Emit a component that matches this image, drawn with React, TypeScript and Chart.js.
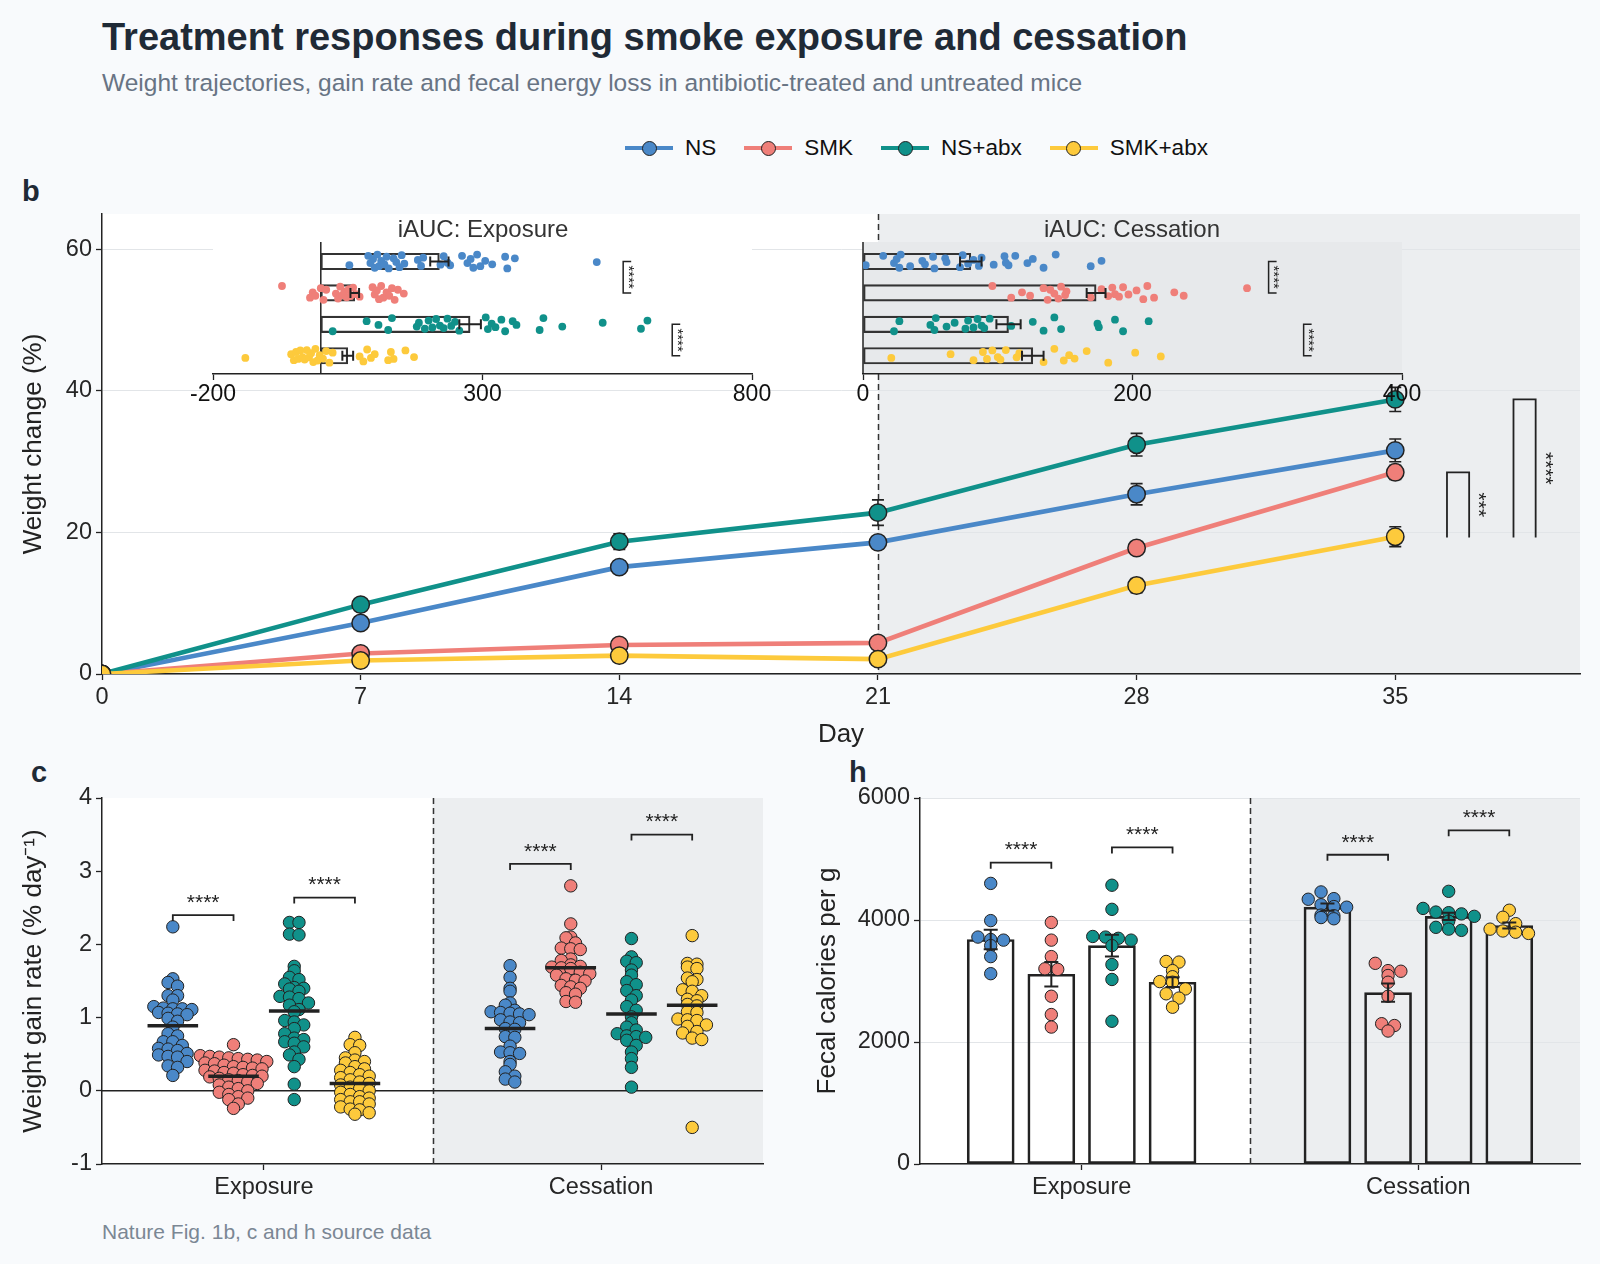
import React, { useEffect, useRef } from "react";
import { Chart, registerables } from "chart.js";

Chart.register(...registerables);

// ---------------- data ----------------
const GROUPS = ["NS", "SMK", "NS+abx", "SMK+abx"];
const COLORS = ["#4a88c8", "#ef7f79", "#10918a", "#fdca3c"];

// panel b: weight change (%) by day
const DAYS = [0, 7, 14, 21, 28, 35];
const DAY_TICKS = [0, 7, 14, 21, 28, 35];
const WEIGHT_TICKS = [0, 20, 40, 60];
const WEIGHT_NS = [0, 7.2, 15.1, 18.6, 25.4, 31.6];
const WEIGHT_SMK = [0, 2.9, 4.1, 4.4, 17.8, 28.5];
const WEIGHT_NSABX = [0, 9.8, 18.7, 22.8, 32.4, 38.8];
const WEIGHT_SMKABX = [0, 1.9, 2.6, 2.1, 12.5, 19.4];
const SEM_NS = [0, 0.6, 0.9, 0.9, 1.5, 1.6];
const SEM_SMK = [0, 0.4, 0.4, 0.4, 0.9, 1.0];
const SEM_NSABX = [0, 0.6, 1.1, 1.8, 1.6, 1.7];
const SEM_SMKABX = [0, 0.4, 0.4, 0.4, 1.0, 1.4];
const WEIGHT = [WEIGHT_NS, WEIGHT_SMK, WEIGHT_NSABX, WEIGHT_SMKABX];
const WEIGHT_SEM = [SEM_NS, SEM_SMK, SEM_NSABX, SEM_SMKABX];
const CESSATION_DAY = 21;

// inset: iAUC exposure
const IAUC_EXP_TICKS = [-200, 300, 800];
const IAUC_EXP_NS = [53, 88, 92, 97, 100, 105, 108, 112, 118, 122, 126, 135, 140, 146, 150, 155, 180, 186, 190, 222, 228, 235, 240, 262, 272, 278, 283, 290, 296, 305, 318, 342, 346, 360, 512];
const IAUC_EXP_SMK = [-72, -20, -15, -10, 0, 5, 10, 28, 32, 36, 40, 44, 48, 52, 55, 60, 66, 72, 96, 100, 104, 108, 112, 116, 122, 127, 132, 137, 143, 154];
const IAUC_EXP_NSABX = [22, 85, 107, 125, 132, 178, 182, 193, 200, 207, 214, 221, 228, 235, 242, 249, 257, 306, 310, 317, 324, 335, 342, 356, 363, 406, 413, 448, 523, 594, 606];
const IAUC_EXP_SMKABX = [-140, -55, -50, -46, -42, -38, -34, -30, -26, -22, -18, -14, -10, -6, -2, 4, 10, 16, 22, 72, 79, 86, 93, 100, 125, 130, 135, 157, 173];
const IAUC_EXP_MEAN = [220, 63, 277, 50];
const IAUC_EXP_SEM = [17, 8, 20, 10];

// inset: iAUC cessation
const IAUC_CES_TICKS = [0, 200, 400];
const IAUC_CES_NS = [2, 15, 23, 25, 27, 28, 35, 44, 46, 52, 53, 61, 62, 72, 74, 78, 82, 86, 88, 97, 105, 106, 108, 113, 122, 126, 134, 143, 169, 177];
const IAUC_CES_SMK = [96, 110, 118, 124, 134, 137, 139, 142, 145, 147, 150, 151, 169, 177, 182, 185, 187, 190, 193, 197, 203, 208, 211, 216, 231, 238, 285];
const IAUC_CES_NSABX = [23, 27, 50, 53, 54, 62, 68, 76, 78, 82, 85, 88, 90, 94, 110, 126, 134, 142, 147, 174, 175, 187, 193, 212];
const IAUC_CES_SMKABX = [21, 65, 82, 89, 92, 96, 100, 102, 106, 114, 116, 134, 142, 149, 153, 157, 166, 182, 202, 221];
const IAUC_CES_MEAN = [80, 173, 108, 126];
const IAUC_CES_SEM = [8, 7, 9, 8];

// panel c: weight gain rate (% per day)
const PERIODS = ["Exposure", "Cessation"];
const RATE_TICKS = [-1, 0, 1, 2, 3, 4];
const RATE_EXP_NS = [2.24, 1.53, 1.48, 1.43, 1.3, 1.3, 1.24, 1.15, 1.13, 1.12, 1.12, 1.11, 1.07, 1.06, 1.05, 1.04, 0.99, 0.95, 0.87, 0.78, 0.75, 0.67, 0.67, 0.62, 0.58, 0.57, 0.55, 0.51, 0.49, 0.47, 0.46, 0.4, 0.34, 0.32, 0.21];
const RATE_EXP_SMK = [0.63, 0.48, 0.47, 0.46, 0.45, 0.44, 0.43, 0.42, 0.4, 0.38, 0.37, 0.35, 0.33, 0.32, 0.31, 0.3, 0.28, 0.27, 0.25, 0.24, 0.22, 0.21, 0.2, 0.19, 0.17, 0.15, 0.14, 0.12, 0.1, 0.08, 0.05, 0.03, 0.0, -0.02, -0.05, -0.08, -0.1, -0.12, -0.18, -0.24];
const RATE_EXP_NSABX = [2.3, 2.3, 2.14, 2.13, 1.7, 1.64, 1.55, 1.52, 1.46, 1.41, 1.4, 1.39, 1.36, 1.29, 1.28, 1.26, 1.2, 1.17, 1.11, 1.08, 0.96, 0.94, 0.9, 0.85, 0.78, 0.72, 0.7, 0.67, 0.65, 0.6, 0.53, 0.49, 0.43, 0.33, 0.09, -0.12];
const RATE_EXP_SMKABX = [0.73, 0.63, 0.62, 0.52, 0.45, 0.42, 0.4, 0.38, 0.33, 0.3, 0.28, 0.25, 0.22, 0.2, 0.18, 0.15, 0.12, 0.1, 0.08, 0.05, 0.03, 0.0, -0.02, -0.05, -0.08, -0.1, -0.12, -0.15, -0.15, -0.18, -0.22, -0.25, -0.26, -0.3, -0.32];
const RATE_CES_NS = [1.71, 1.55, 1.4, 1.36, 1.2, 1.17, 1.1, 1.08, 1.07, 1.06, 1.05, 1.04, 0.97, 0.94, 0.93, 0.85, 0.84, 0.74, 0.73, 0.61, 0.53, 0.52, 0.51, 0.4, 0.36, 0.26, 0.2, 0.16, 0.12];
const RATE_CES_SMK = [2.8, 2.28, 2.1, 2.09, 2.02, 1.95, 1.94, 1.93, 1.8, 1.78, 1.72, 1.7, 1.69, 1.68, 1.67, 1.62, 1.6, 1.58, 1.53, 1.51, 1.5, 1.44, 1.42, 1.4, 1.34, 1.32, 1.22, 1.21];
const RATE_CES_NSABX = [2.08, 1.83, 1.77, 1.75, 1.65, 1.58, 1.49, 1.45, 1.37, 1.3, 1.24, 1.15, 1.1, 1.01, 0.93, 0.87, 0.83, 0.78, 0.75, 0.74, 0.73, 0.69, 0.62, 0.53, 0.44, 0.32, 0.05];
const RATE_CES_SMKABX = [2.12, 1.74, 1.73, 1.69, 1.67, 1.54, 1.52, 1.49, 1.38, 1.36, 1.3, 1.25, 1.23, 1.18, 1.16, 1.08, 1.07, 0.98, 0.97, 0.96, 0.9, 0.88, 0.81, 0.79, 0.72, 0.7, -0.5];
const RATE_EXP_MEAN = [0.89, 0.2, 1.09, 0.1];
const RATE_CES_MEAN = [0.85, 1.68, 1.05, 1.17];

// panel h: fecal calories per g
const FECAL_TICKS = [0, 2000, 4000, 6000];
const FECAL_EXP_NS = [4600, 3990, 3720, 3680, 3670, 3580, 3400, 3120];
const FECAL_EXP_SMK = [3960, 3670, 3400, 3200, 3190, 2750, 2450, 2245];
const FECAL_EXP_NSABX = [4570, 4175, 3730, 3720, 3700, 3670, 3580, 3270, 3025, 2340];
const FECAL_EXP_SMKABX = [3320, 3310, 3170, 3070, 2990, 2980, 2870, 2790, 2720, 2570];
const FECAL_CES_NS = [4460, 4350, 4340, 4250, 4220, 4210, 4080, 4070, 4040, 4020];
const FECAL_CES_SMK = [3290, 3170, 3160, 3090, 2980, 2750, 2300, 2270, 2180];
const FECAL_CES_NSABX = [4470, 4190, 4130, 4120, 4100, 4060, 3980, 3880, 3850, 3830];
const FECAL_CES_SMKABX = [4160, 4045, 3940, 3850, 3820, 3800, 3780];
const FECAL_EXP_MEAN = [3680, 3110, 3580, 2980];
const FECAL_CES_MEAN = [4210, 2810, 4060, 3910];
const FECAL_EXP_SEM = [160, 200, 180, 80];
const FECAL_CES_SEM = [60, 150, 60, 50];

// ---------------- style ----------------
const FONT = '"Liberation Sans", Arial, Helvetica, sans-serif';
const INK = "#222222";
const TEXT = "#262626";
const SHADE = "#eceef0";
const PAGE_BG = "#f8fafc";
const GRID = "#e2e5e8";
const TICK_PX = 23.5;
const TITLE_PX = 26;
const GROUP_OFFSETS = [-0.27, -0.09, 0.09, 0.27];
const JITTER = [0.12, -0.18, 0.05, -0.08, 0.2, -0.22, 0.15, -0.02, 0.09, -0.15, 0.22, -0.1, 0.02, 0.18, -0.2, 0.07, -0.05, 0.14, -0.12, 0.1, -0.17, 0.04];
const XMIN2 = -0.48;
const XMAX2 = 1.48;

// binned swarm layout: points in the same value bin are spread side by side
function binSwarm(values: number[], center: number, pxX: number, binSize: number, stepPx: number) {
  const bins = new Map<number, number[]>();
  values.forEach((v) => {
    const k = Math.floor(v / binSize + 1e-9);
    if (!bins.has(k)) bins.set(k, []);
    (bins.get(k) as number[]).push(v);
  });
  const out: { x: number; y: number }[] = [];
  bins.forEach((list) => {
    list.forEach((v, i) => {
      out.push({ x: center + ((i - (list.length - 1) / 2) * stepPx) / pxX, y: v });
    });
  });
  return out;
}

const fixW = (w: number) => (s: any) => {
  s.width = w;
};
const fixH = (h: number) => (s: any) => {
  s.height = h;
};

function tickFont(size: number) {
  return { family: FONT, size };
}

function bgPlugin(color: string) {
  return {
    id: "areaBg",
    beforeDraw(chart: any) {
      const { ctx, chartArea: a } = chart;
      ctx.save();
      ctx.fillStyle = color;
      ctx.fillRect(a.left, a.top, a.right - a.left, a.bottom - a.top);
      ctx.restore();
    },
  };
}

function shadeFrom(xv: number) {
  return {
    id: "shade",
    beforeDraw(chart: any) {
      const { ctx, chartArea: a, scales } = chart;
      const x0 = scales.x.getPixelForValue(xv);
      ctx.save();
      ctx.fillStyle = SHADE;
      ctx.fillRect(x0, a.top, a.right - x0, a.bottom - a.top);
      ctx.restore();
    },
    beforeDatasetsDraw(chart: any) {
      const { ctx, chartArea: a, scales } = chart;
      const x0 = Math.round(scales.x.getPixelForValue(xv)) + 0.5;
      ctx.save();
      ctx.strokeStyle = "#333";
      ctx.lineWidth = 1.5;
      ctx.setLineDash([6, 4]);
      ctx.beginPath();
      ctx.moveTo(x0, a.top);
      ctx.lineTo(x0, a.bottom);
      ctx.stroke();
      ctx.restore();
    },
  };
}

function hBracket(chart: any, x0: number, x1: number, yv: number, label: string) {
  const { ctx, scales } = chart;
  const X0 = scales.x.getPixelForValue(x0);
  const X1 = scales.x.getPixelForValue(x1);
  const Y = scales.y.getPixelForValue(yv);
  ctx.save();
  ctx.strokeStyle = INK;
  ctx.lineWidth = 1.8;
  ctx.beginPath();
  ctx.moveTo(X0, Y + 6);
  ctx.lineTo(X0, Y);
  ctx.lineTo(X1, Y);
  ctx.lineTo(X1, Y + 6);
  ctx.stroke();
  ctx.fillStyle = INK;
  ctx.font = `21px ${FONT}`;
  ctx.textAlign = "center";
  ctx.textBaseline = "middle";
  ctx.fillText(label, (X0 + X1) / 2, Y - 12);
  ctx.restore();
}

// ---------------- chart configs ----------------
function makeB() {
  const datasets = GROUPS.map((g, i) => ({
    label: g,
    data: DAYS.map((d, k) => ({ x: d, y: WEIGHT[i][k] })),
    borderColor: COLORS[i],
    backgroundColor: COLORS[i],
    borderWidth: 4.6,
    pointRadius: 8.7,
    pointBorderWidth: 1.5,
    pointBorderColor: INK,
    pointBackgroundColor: COLORS[i],
    order: 4 - i,
    tension: 0,
  }));
  const deco = {
    id: "bDeco",
    beforeDatasetsDraw(chart: any) {
      const { ctx, scales } = chart;
      const { x, y } = scales;
      ctx.save();
      ctx.strokeStyle = INK;
      ctx.lineWidth = 1.6;
      WEIGHT.forEach((ser, g) =>
        ser.forEach((v, k) => {
          const s = WEIGHT_SEM[g][k];
          if (!s) return;
          const px = x.getPixelForValue(DAYS[k]);
          const y0 = y.getPixelForValue(v - s);
          const y1 = y.getPixelForValue(v + s);
          ctx.beginPath();
          ctx.moveTo(px, y0);
          ctx.lineTo(px, y1);
          ctx.moveTo(px - 6, y0);
          ctx.lineTo(px + 6, y0);
          ctx.moveTo(px - 6, y1);
          ctx.lineTo(px + 6, y1);
          ctx.stroke();
        })
      );
      ctx.restore();
    },
    afterDatasetsDraw(chart: any) {
      const { ctx, scales } = chart;
      const { x, y } = scales;
      const br = (x0: number, x1: number, yt: number, yb: number, label: string) => {
        const X0 = x.getPixelForValue(x0);
        const X1 = x.getPixelForValue(x1);
        const YT = y.getPixelForValue(yt);
        const YB = y.getPixelForValue(yb);
        ctx.save();
        ctx.strokeStyle = INK;
        ctx.lineWidth = 1.8;
        ctx.beginPath();
        ctx.moveTo(X0, YB);
        ctx.lineTo(X0, YT);
        ctx.lineTo(X1, YT);
        ctx.lineTo(X1, YB);
        ctx.stroke();
        ctx.translate(X1 + 9, (YT + YB) / 2);
        ctx.rotate(Math.PI / 2);
        ctx.fillStyle = INK;
        ctx.font = `21px ${FONT}`;
        ctx.textAlign = "center";
        ctx.textBaseline = "middle";
        ctx.fillText(label, 0, 0);
        ctx.restore();
      };
      br(36.4, 37.0, WEIGHT_SMK[5], WEIGHT_SMKABX[5] - 0.1, "***");
      br(38.2, 38.8, WEIGHT_NSABX[5], WEIGHT_SMKABX[5] - 0.1, "****");
    },
  };
  return {
    type: "line",
    data: { datasets },
    options: {
      responsive: false,
      animation: false,
      events: [],
      layout: { padding: { left: 14, top: 24, right: 20, bottom: 0 } },
      plugins: { legend: { display: false }, tooltip: { enabled: false } },
      scales: {
        x: {
          type: "linear",
          min: 0,
          max: 40,
          afterFit: fixH(76),
          afterBuildTicks: (s: any) => {
            s.ticks = DAY_TICKS.map((v) => ({ value: v }));
          },
          ticks: { font: tickFont(TICK_PX), color: TEXT, padding: 3 },
          grid: { color: "rgba(0,0,0,0)", tickColor: INK, tickLength: 6, tickWidth: 1.3 },
          border: { color: INK, width: 1.5 },
          title: { display: true, text: "Day", font: { family: FONT, size: TITLE_PX }, color: INK, padding: { top: 0, bottom: 0 } },
        },
        y: {
          type: "linear",
          min: 0,
          max: 65,
          afterFit: fixW(88),
          afterBuildTicks: (s: any) => {
            s.ticks = WEIGHT_TICKS.map((v) => ({ value: v }));
          },
          ticks: { font: tickFont(TICK_PX), color: TEXT, padding: 4 },
          grid: { color: GRID, tickColor: INK, tickLength: 6, tickWidth: 1.3 },
          border: { color: INK, width: 1.5 },
          title: { display: true, text: "Weight change (%)", font: { family: FONT, size: TITLE_PX }, color: INK, padding: { top: 4, bottom: 0 } },
        },
      },
    },
    plugins: [bgPlugin("#ffffff"), shadeFrom(CESSATION_DAY), deco],
  };
}

function makeInset(series: number[][], means: number[], sems: number[], min: number, max: number, ticks: number[], bg: string, brackets: { x: number; r0: number; r1: number }[]) {
  const bars = {
    type: "bar",
    indexAxis: "y",
    data: means.map((m, i) => ({ x: m, y: i })),
    backgroundColor: "rgba(255,255,255,0)",
    borderColor: "#333",
    borderWidth: 1.5,
    borderSkipped: false,
    barThickness: 16.5,
    order: 3,
  };
  const pts = series.map((vals, g) => ({
    type: "scatter",
    data: vals.map((v, k) => ({ x: v, y: g + JITTER[(k + g * 5) % JITTER.length] })),
    backgroundColor: COLORS[g],
    borderWidth: 0,
    pointRadius: 3.9,
    order: 2,
  }));
  const deco = {
    id: "insetDeco",
    beforeDraw(chart: any) {
      const { ctx, chartArea: a } = chart;
      ctx.save();
      ctx.fillStyle = bg;
      ctx.fillRect(a.left, a.top, a.right - a.left, a.bottom - a.top);
      ctx.restore();
    },
    beforeDatasetsDraw(chart: any) {
      const { ctx, chartArea: a, scales } = chart;
      const x0 = scales.x.getPixelForValue(0);
      ctx.save();
      ctx.strokeStyle = INK;
      ctx.lineWidth = 1.5;
      ctx.beginPath();
      ctx.moveTo(x0, a.top);
      ctx.lineTo(x0, a.bottom);
      ctx.stroke();
      ctx.restore();
    },
    afterDatasetsDraw(chart: any) {
      const { ctx, scales } = chart;
      const { x, y } = scales;
      ctx.save();
      ctx.strokeStyle = INK;
      ctx.lineWidth = 2;
      means.forEach((m, i) => {
        const X0 = x.getPixelForValue(m - sems[i]);
        const X1 = x.getPixelForValue(m + sems[i]);
        const Y = y.getPixelForValue(i);
        ctx.beginPath();
        ctx.moveTo(X0, Y);
        ctx.lineTo(X1, Y);
        ctx.moveTo(X0, Y - 5);
        ctx.lineTo(X0, Y + 5);
        ctx.moveTo(X1, Y - 5);
        ctx.lineTo(X1, Y + 5);
        ctx.stroke();
      });
      ctx.lineWidth = 1.5;
      brackets.forEach((b) => {
        const X = x.getPixelForValue(b.x);
        const Y0 = y.getPixelForValue(b.r0);
        const Y1 = y.getPixelForValue(b.r1);
        ctx.beginPath();
        ctx.moveTo(X + 8, Y0);
        ctx.lineTo(X, Y0);
        ctx.lineTo(X, Y1);
        ctx.lineTo(X + 8, Y1);
        ctx.stroke();
        ctx.save();
        ctx.translate(X + 5, (Y0 + Y1) / 2);
        ctx.rotate(Math.PI / 2);
        ctx.fillStyle = INK;
        ctx.font = `15px ${FONT}`;
        ctx.textAlign = "center";
        ctx.textBaseline = "middle";
        ctx.fillText("****", 0, 0);
        ctx.restore();
      });
      ctx.restore();
    },
  };
  return {
    type: "bar",
    data: { datasets: [bars, ...pts] },
    options: {
      responsive: false,
      animation: false,
      events: [],
      layout: { padding: { left: 33, top: 10, right: 38, bottom: 0 } },
      plugins: { legend: { display: false }, tooltip: { enabled: false } },
      scales: {
        x: {
          type: "linear",
          min,
          max,
          offset: false,
          afterFit: fixH(42),
          afterBuildTicks: (s: any) => {
            s.ticks = ticks.map((v) => ({ value: v }));
          },
          ticks: { font: tickFont(23), color: "#111", padding: 1, autoSkip: false, maxRotation: 0 },
          grid: { color: "rgba(0,0,0,0)", tickColor: INK, tickLength: 6, tickWidth: 1.3, offset: false },
          border: { color: INK, width: 1.5 },
        },
        y: {
          type: "linear",
          min: -0.62,
          max: 3.58,
          reverse: true,
          display: false,
          offset: false,
          grid: { offset: false },
        },
      },
    },
    plugins: [deco],
  };
}

function makeC() {
  const rates = [
    [RATE_EXP_NS, RATE_EXP_SMK, RATE_EXP_NSABX, RATE_EXP_SMKABX],
    [RATE_CES_NS, RATE_CES_SMK, RATE_CES_NSABX, RATE_CES_SMKABX],
  ];
  const means = [RATE_EXP_MEAN, RATE_CES_MEAN];
  const pxX = 661 / (XMAX2 - XMIN2);
  const datasets: any[] = [
    {
      type: "line",
      data: [
        { x: XMIN2, y: 0 },
        { x: XMAX2, y: 0 },
      ],
      borderColor: INK,
      borderWidth: 1.4,
      pointRadius: 0,
      order: 5,
    },
  ];
  rates.forEach((per, p) =>
    per.forEach((vals, g) => {
      const c = p + GROUP_OFFSETS[g];
      datasets.push({
        type: "scatter",
        data: binSwarm(vals, c, pxX, 0.1, 9.5),
        backgroundColor: COLORS[g],
        borderColor: INK,
        borderWidth: 1,
        pointRadius: 6.2,
        order: 2,
      });
      datasets.push({
        type: "line",
        data: [
          { x: c - 0.075, y: means[p][g] },
          { x: c + 0.075, y: means[p][g] },
        ],
        borderColor: INK,
        borderWidth: 3.5,
        pointRadius: 0,
        order: 1,
      });
    })
  );
  const deco = {
    id: "cDeco",
    afterDatasetsDraw(chart: any) {
      hBracket(chart, GROUP_OFFSETS[0], GROUP_OFFSETS[1], 2.4, "****");
      hBracket(chart, GROUP_OFFSETS[2], GROUP_OFFSETS[3], 2.64, "****");
      hBracket(chart, 1 + GROUP_OFFSETS[0], 1 + GROUP_OFFSETS[1], 3.1, "****");
      hBracket(chart, 1 + GROUP_OFFSETS[2], 1 + GROUP_OFFSETS[3], 3.5, "****");
    },
  };
  return {
    type: "scatter",
    data: { datasets },
    options: {
      responsive: false,
      animation: false,
      events: [],
      layout: { padding: { left: 14, top: 48, right: 27, bottom: 0 } },
      plugins: { legend: { display: false }, tooltip: { enabled: false } },
      scales: {
        x: {
          type: "linear",
          min: XMIN2,
          max: XMAX2,
          afterFit: fixH(44),
          afterBuildTicks: (s: any) => {
            s.ticks = PERIODS.map((_, i) => ({ value: i }));
          },
          ticks: { font: tickFont(TICK_PX), color: TEXT, padding: 3, callback: (v: any) => PERIODS[v] ?? "" },
          grid: { color: "rgba(0,0,0,0)", tickColor: INK, tickLength: 6, tickWidth: 1.3 },
          border: { color: INK, width: 1.5 },
        },
        y: {
          type: "linear",
          min: -1,
          max: 4,
          afterFit: fixW(88),
          afterBuildTicks: (s: any) => {
            s.ticks = RATE_TICKS.map((v) => ({ value: v }));
          },
          ticks: { font: tickFont(TICK_PX), color: TEXT, padding: 4 },
          grid: { color: "rgba(0,0,0,0)", tickColor: INK, tickLength: 6, tickWidth: 1.3 },
          border: { color: INK, width: 1.5 },
          title: { display: true, text: "Weight gain rate (% day\u207B\u00B9)", font: { family: FONT, size: TITLE_PX }, color: INK, padding: { top: 4, bottom: 0 } },
        },
      },
    },
    plugins: [bgPlugin("#ffffff"), shadeFrom(0.5), deco],
  };
}

function makeH() {
  const fecal = [
    [FECAL_EXP_NS, FECAL_EXP_SMK, FECAL_EXP_NSABX, FECAL_EXP_SMKABX],
    [FECAL_CES_NS, FECAL_CES_SMK, FECAL_CES_NSABX, FECAL_CES_SMKABX],
  ];
  const means = [FECAL_EXP_MEAN, FECAL_CES_MEAN];
  const sems = [FECAL_EXP_SEM, FECAL_CES_SEM];
  const pxX = 660 / (XMAX2 - XMIN2);
  const barData: any[] = [];
  means.forEach((per, p) => per.forEach((m, g) => barData.push({ x: p + GROUP_OFFSETS[g], y: m })));
  const datasets: any[] = [
    {
      type: "bar",
      data: barData,
      backgroundColor: "rgba(255,255,255,0)",
      borderColor: INK,
      borderWidth: 2,
      borderSkipped: false,
      barThickness: 47,
      order: 3,
    },
  ];
  fecal.forEach((per, p) =>
    per.forEach((vals, g) => {
      datasets.push({
        type: "scatter",
        data: binSwarm(vals, p + GROUP_OFFSETS[g], pxX, 150, 12.8),
        backgroundColor: COLORS[g],
        borderColor: INK,
        borderWidth: 1,
        pointRadius: 6.2,
        order: 2,
      });
    })
  );
  const deco = {
    id: "hDeco",
    afterDatasetsDraw(chart: any) {
      const { ctx, scales } = chart;
      const { x, y } = scales;
      ctx.save();
      ctx.strokeStyle = INK;
      ctx.lineWidth = 2;
      means.forEach((per, p) =>
        per.forEach((m, g) => {
          const X = x.getPixelForValue(p + GROUP_OFFSETS[g]);
          const Y0 = y.getPixelForValue(m - sems[p][g]);
          const Y1 = y.getPixelForValue(m + sems[p][g]);
          ctx.beginPath();
          ctx.moveTo(X, Y0);
          ctx.lineTo(X, Y1);
          ctx.moveTo(X - 7, Y0);
          ctx.lineTo(X + 7, Y0);
          ctx.moveTo(X - 7, Y1);
          ctx.lineTo(X + 7, Y1);
          ctx.stroke();
        })
      );
      ctx.restore();
      hBracket(chart, GROUP_OFFSETS[0], GROUP_OFFSETS[1], 4940, "****");
      hBracket(chart, GROUP_OFFSETS[2], GROUP_OFFSETS[3], 5190, "****");
      hBracket(chart, 1 + GROUP_OFFSETS[0], 1 + GROUP_OFFSETS[1], 5070, "****");
      hBracket(chart, 1 + GROUP_OFFSETS[2], 1 + GROUP_OFFSETS[3], 5470, "****");
    },
  };
  return {
    type: "bar",
    data: { datasets },
    options: {
      responsive: false,
      animation: false,
      events: [],
      layout: { padding: { left: 8, top: 48, right: 20, bottom: 0 } },
      plugins: { legend: { display: false }, tooltip: { enabled: false } },
      scales: {
        x: {
          type: "linear",
          min: XMIN2,
          max: XMAX2,
          offset: false,
          afterFit: fixH(44),
          afterBuildTicks: (s: any) => {
            s.ticks = PERIODS.map((_, i) => ({ value: i }));
          },
          ticks: { font: tickFont(TICK_PX), color: TEXT, padding: 3, callback: (v: any) => PERIODS[v] ?? "" },
          grid: { color: "rgba(0,0,0,0)", tickColor: INK, tickLength: 6, tickWidth: 1.3, offset: false },
          border: { color: INK, width: 1.5 },
        },
        y: {
          type: "linear",
          min: 0,
          max: 6000,
          afterFit: fixW(112),
          afterBuildTicks: (s: any) => {
            s.ticks = FECAL_TICKS.map((v) => ({ value: v }));
          },
          ticks: { font: tickFont(TICK_PX), color: TEXT, padding: 4, callback: (v: any) => String(v) },
          grid: { color: GRID, tickColor: INK, tickLength: 6, tickWidth: 1.3 },
          border: { color: INK, width: 1.5 },
          title: { display: true, text: "Fecal calories per g", font: { family: FONT, size: TITLE_PX }, color: INK, padding: { top: 4, bottom: 0 } },
        },
      },
    },
    plugins: [bgPlugin("#ffffff"), shadeFrom(0.5), deco],
  };
}

// ---------------- components ----------------
function ChartBox({ left, top, width, height, make }: any) {
  const ref = useRef<HTMLCanvasElement>(null);
  useEffect(() => {
    const chart = new Chart(ref.current as HTMLCanvasElement, make() as any);
    return () => chart.destroy();
  }, []);
  return (
    <div style={{ position: "absolute", left, top, width, height }}>
      <canvas ref={ref} width={width} height={height} style={{ width, height, display: "block" }} />
    </div>
  );
}

function Label({ left, top, children, style }: any) {
  return <div style={{ position: "absolute", left, top, whiteSpace: "nowrap", fontFamily: FONT, ...style }}>{children}</div>;
}

export default function App() {
  useEffect(() => {
    document.body.style.margin = "0";
    document.body.style.background = PAGE_BG;
  }, []);
  const letter = { fontSize: 29, fontWeight: 700, color: "#1f2a36", lineHeight: "34px" };
  return (
    <div style={{ position: "absolute", left: 0, top: 0, width: 1600, height: 1264, background: PAGE_BG, overflow: "hidden" }}>
      <Label left={102} top={15} style={{ fontSize: 38, fontWeight: 700, color: "#1f2a36", lineHeight: "44px" }}>
        Treatment responses during smoke exposure and cessation
      </Label>
      <Label left={102} top={68} style={{ fontSize: 24.5, color: "#687484", lineHeight: "30px" }}>
        Weight trajectories, gain rate and fecal energy loss in antibiotic-treated and untreated mice
      </Label>
      <div style={{ position: "absolute", left: 625, top: 136, height: 24, display: "flex", alignItems: "center", fontFamily: FONT, fontSize: 22.5, color: "#111" }}>
        {GROUPS.map((g, i) => (
          <div key={g} style={{ display: "flex", alignItems: "center", marginRight: 28 }}>
            <div style={{ position: "relative", width: 48, height: 4, background: COLORS[i] }}>
              <div
                style={{
                  position: "absolute",
                  left: 16.5,
                  top: -5.5,
                  width: 15,
                  height: 15,
                  boxSizing: "border-box",
                  borderRadius: "50%",
                  background: COLORS[i],
                  border: `1.5px solid ${INK}`,
                }}
              />
            </div>
            <span style={{ marginLeft: 12 }}>{g}</span>
          </div>
        ))}
      </div>
      <Label left={22} top={174} style={letter}>b</Label>
      <Label left={31} top={755} style={letter}>c</Label>
      <Label left={849} top={755} style={letter}>h</Label>

      <ChartBox left={0} top={190} width={1600} height={560} make={makeB} />
      <ChartBox
        left={180}
        top={232}
        width={610}
        height={184}
        make={() =>
          makeInset([IAUC_EXP_NS, IAUC_EXP_SMK, IAUC_EXP_NSABX, IAUC_EXP_SMKABX], IAUC_EXP_MEAN, IAUC_EXP_SEM, -200, 800, IAUC_EXP_TICKS, "#ffffff", [
            { x: 561, r0: 0, r1: 1 },
            { x: 652, r0: 2, r1: 3 },
          ])
        }
      />
      <ChartBox
        left={830}
        top={232}
        width={610}
        height={184}
        make={() =>
          makeInset([IAUC_CES_NS, IAUC_CES_SMK, IAUC_CES_NSABX, IAUC_CES_SMKABX], IAUC_CES_MEAN, IAUC_CES_SEM, 0, 400, IAUC_CES_TICKS, "#e7e9eb", [
            { x: 301, r0: 0, r1: 1 },
            { x: 327, r0: 2, r1: 3 },
          ])
        }
      />
      <Label left={483} top={215} style={{ fontSize: 24, color: "#333", transform: "translateX(-50%)", lineHeight: "28px" }}>iAUC: Exposure</Label>
      <Label left={1132} top={215} style={{ fontSize: 24, color: "#333", transform: "translateX(-50%)", lineHeight: "28px" }}>iAUC: Cessation</Label>

      <ChartBox left={0} top={750} width={790} height={458} make={makeC} />
      <ChartBox left={800} top={750} width={800} height={458} make={makeH} />

      <Label left={102} top={1219} style={{ fontSize: 21, color: "#7b8794", lineHeight: "26px" }}>
        Nature Fig. 1b, c and h source data
      </Label>
    </div>
  );
}
